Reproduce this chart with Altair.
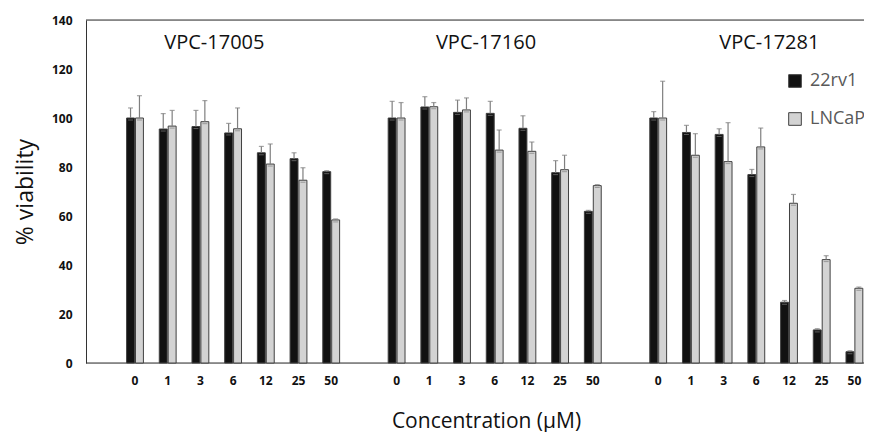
import altair as alt
import pandas as pd

# ---- data ----
compounds = ["VPC-17005", "VPC-17160", "VPC-17281"]
concs = ["0", "1", "3", "6", "12", "25", "50"]
series = ["22rv1", "LNCaP"]

v_22rv1_17005 = [100, 95.5, 96.5, 93.9, 85.8, 83.4, 78.1]
v_22rv1_17160 = [100, 104.5, 102.3, 101.9, 95.8, 77.7, 61.9]
v_22rv1_17281 = [100, 94.1, 93.3, 76.9, 24.8, 13.5, 4.6]
e_22rv1_17005 = [4.1, 6.3, 6.6, 3.9, 2.6, 2.4, 0.4]
e_22rv1_17160 = [6.8, 4.2, 5.0, 4.9, 5.1, 4.9, 0.4]
e_22rv1_17281 = [2.6, 2.9, 2.3, 2.1, 0.7, 0.5, 0.4]

v_lncap_17005 = [100, 96.7, 98.5, 95.6, 81.2, 74.6, 58.4]
v_lncap_17160 = [100, 104.6, 103.3, 86.9, 86.4, 78.9, 72.4]
v_lncap_17281 = [100, 84.8, 82.2, 88.2, 65.2, 42.2, 30.5]
e_lncap_17005 = [9.1, 6.4, 8.6, 8.5, 8.2, 5.1, 0.4]
e_lncap_17160 = [6.3, 1.7, 4.9, 8.2, 3.8, 5.9, 0.4]
e_lncap_17281 = [15.0, 8.8, 15.9, 7.7, 3.6, 1.6, 0.5]

values = {
    ("22rv1", 0): (v_22rv1_17005, e_22rv1_17005),
    ("22rv1", 1): (v_22rv1_17160, e_22rv1_17160),
    ("22rv1", 2): (v_22rv1_17281, e_22rv1_17281),
    ("LNCaP", 0): (v_lncap_17005, e_lncap_17005),
    ("LNCaP", 1): (v_lncap_17160, e_lncap_17160),
    ("LNCaP", 2): (v_lncap_17281, e_lncap_17281),
}

# slot order: 7 concentrations per compound, one empty slot between compounds
slots = []
for gi, comp in enumerate(compounds):
    if gi > 0:
        slots.append(f"gap{gi}")
    for c in concs:
        slots.append(f"{comp}|{c}")

rows = []
for (s, gi), (vals, errs) in values.items():
    for c, v, e in zip(concs, vals, errs):
        rows.append({"slot": f"{compounds[gi]}|{c}", "series": s,
                     "value": v, "top": v + e})
df = pd.DataFrame(rows)

W, H = 778, 343
STEP = 32.7
R0 = 49 - STEP / 2
FONT = "Open Sans"

x_enc = alt.X("slot:N", scale=alt.Scale(domain=slots, range=[R0, R0 + 23 * STEP],
                                        paddingInner=0, paddingOuter=0),
              sort=slots,
              axis=alt.Axis(title="Concentration (µM)", domain=False, ticks=False,
                            labelAngle=0, labelPadding=12, labelFontSize=12,
                            labelFontWeight="bold", labelColor="#111",
                            labelFont=FONT,
                            labelExpr="indexof(datum.label,'|')>=0 ? split(datum.label,'|')[1] : ''",
                            titleFont=FONT, titleFontSize=21, titleFontWeight="normal",
                            titleColor="#111", titleX=400, titleY=58,
                            titleBaseline="middle"))
xo_enc = alt.XOffset("series:N", scale=alt.Scale(domain=series, paddingInner=0.11,
                                                 paddingOuter=0.89))
y_scale = alt.Scale(domain=[0, 140])
y_enc = alt.Y("value:Q", scale=y_scale,
              axis=alt.Axis(title="% viability", values=[0, 20, 40, 60, 80, 100, 120, 140],
                            grid=False, ticks=False, tickSize=0, labelPadding=14,
                            labelFontSize=12, labelFontWeight="bold", labelColor="#111",
                            labelFont=FONT, domainColor="#333",
                            titleFont=FONT, titleFontSize=23, titleFontWeight="normal",
                            titleColor="#111", titleX=-61, titleY=171.5,
                            titleAngle=-90, titleBaseline="middle"))

base = alt.Chart(df)

bars = base.mark_bar(stroke="#404040", strokeWidth=1).encode(
    x=x_enc, xOffset=xo_enc, y=y_enc,
    color=alt.Color("series:N", scale=alt.Scale(domain=series, range=["#111111", "#d3d3d3"]),
                    legend=alt.Legend(title=None, orient="none", legendX=700, legendY=52,
                                      direction="vertical", symbolType="square",
                                      symbolSize=160, symbolStrokeColor="#404040",
                                      symbolStrokeWidth=1, labelFont=FONT,
                                      labelFontSize=18, labelColor="#595959",
                                      labelOffset=6, rowPadding=20, padding=0)),
)

whisk = base.mark_rule(color="#7f7f7f", strokeWidth=1.2).encode(
    x=x_enc, xOffset=xo_enc, y=alt.Y("value:Q"), y2="top:Q")
caps = base.mark_tick(color="#7f7f7f", size=5, thickness=1.2).encode(
    x=x_enc, xOffset=xo_enc, y=alt.Y("top:Q"))
basecaps = base.mark_tick(color="#7f7f7f", size=5, thickness=1, yOffset=2).encode(
    x=x_enc, xOffset=xo_enc, y=alt.Y("value:Q"))

frame_df = pd.DataFrame({"v": [0, 140]})
frame = alt.Chart(frame_df).mark_rule(color="#333", strokeWidth=1).encode(
    y=alt.Y("v:Q", scale=y_scale), x=alt.value(0), x2=alt.value(W))

title_slots = [f"{compounds[0]}|3", f"{compounds[1]}|3", f"{compounds[2]}|6"]
title_dx = [14, 24, 13]
titles = []
for comp, ts, dx in zip(compounds, title_slots, title_dx):
    tdf = pd.DataFrame({"slot": [ts], "label": [comp], "ty": [130.6]})
    titles.append(alt.Chart(tdf).mark_text(font=FONT, fontSize=20, color="#111",
                                           baseline="middle", align="center", dx=dx).encode(
        x=alt.X("slot:N"), y=alt.Y("ty:Q", scale=y_scale), text="label:N"))

chart = alt.layer(frame, bars, whisk, caps, basecaps, *titles).properties(
    width=W, height=H,
    autosize=alt.AutoSizeParams(type="none"),
    padding={"left": 78, "top": 12, "right": 0, "bottom": 69},
).configure_view(stroke=None).configure(background="white")

chart.save("out.html", embed_options={"renderer": "svg", "actions": False})
